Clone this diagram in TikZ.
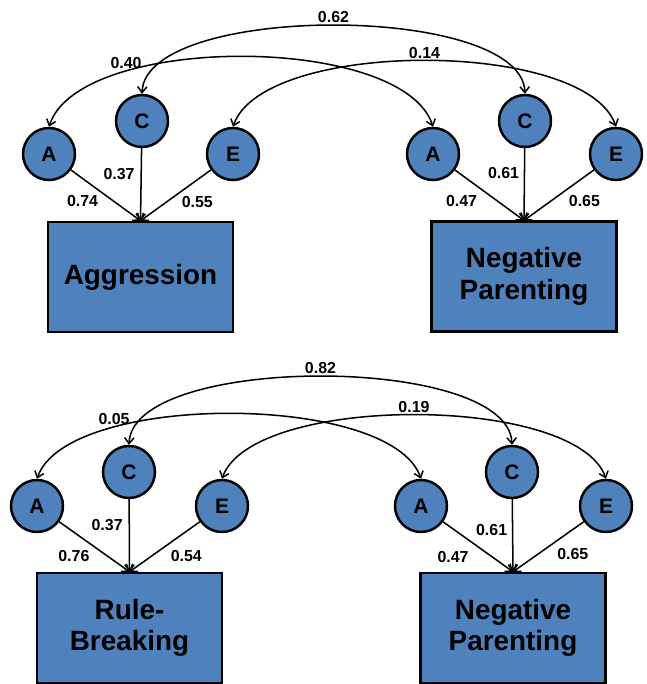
\documentclass[tikz,border=0pt]{standalone}
\usepackage{fontspec}
\setmainfont{Liberation Sans}
\usepackage{tikz}
\usetikzlibrary{arrows.meta}
\definecolor{aceB}{RGB}{79,129,189}
\tikzset{
  latent/.style={circle, draw, line width=2.1pt, fill=aceB, minimum size=1.56cm, inner sep=0pt,
    font=\fontsize{17.9}{20}\selectfont\bfseries},
  pheno/.style={rectangle, draw, line width=2.1pt, fill=aceB, minimum width=5.55cm, minimum height=3.3cm,
    align=center, font=\fontsize{23.8}{27}\selectfont\bfseries},
  barb/.tip={Straight Barb[length=5pt, width=8pt]},
  load/.style={-barb, line width=1.3pt},
  cov/.style={barb-barb, line width=1.3pt},
  coef/.style={font=\fontsize{13.6}{15}\selectfont\bfseries, inner sep=1pt}
}

\begin{document}
\begin{tikzpicture}
\useasboundingbox (0,0) rectangle (19.41,20.52);
% top: aggression and negative parenting
\node[latent] (aA) at (1.47,15.90) {A};
\node[latent] (aC) at (4.26,16.89) {C};
\node[latent] (aE) at (6.99,15.90) {E};
\node[pheno] (agg) at (4.215,12.21) {Aggression};
\node[latent] (pA) at (12.99,15.90) {A};
\node[latent] (pC) at (15.75,16.89) {C};
\node[latent] (pE) at (18.48,15.90) {E};
\node[pheno] (np) at (15.72,12.22) {Negative\\Parenting};
\draw[load] (aA) -- node[coef, pos=0.62, left=12pt] {0.74} (agg.north);
\draw[load] (aC) -- node[coef, pos=0.35, left=4pt] {0.37} (agg.north);
\draw[load] (aE) -- node[coef, pos=0.64, right=12pt] {0.55} (agg.north);
\draw[load] (pA) -- node[coef, pos=0.62, left=16pt] {0.47} (np.north);
\draw[load] (pC) -- node[coef, pos=0.35, left=3pt] {0.61} (np.north);
\draw[load] (pE) -- node[coef, pos=0.62, right=14pt] {0.65} (np.north);
\draw[cov] (aC.north) .. controls +(0.1,2.73) and +(-0.1,2.73) .. node[coef, pos=0.5, above=1pt] {0.62} (pC.north);
\draw[cov] (aA.north) .. controls +(0.9,2.8) and +(-0.9,2.8) .. node[coef, pos=0.27, above=1pt] {0.40} (pA.north);
\draw[cov] (aE.north) .. controls +(0.9,2.64) and +(-0.9,2.64) .. node[coef, pos=0.5, above=0pt] {0.14} (pE.north);
% bottom: rule-breaking and negative parenting
\node[latent] (rA) at (1.11,5.34) {A};
\node[latent] (rC) at (3.87,6.36) {C};
\node[latent] (rE) at (6.66,5.34) {E};
\node[pheno] (rb) at (3.885,1.68) {Rule-\\Breaking};
\node[latent] (qA) at (12.63,5.34) {A};
\node[latent] (qC) at (15.36,6.36) {C};
\node[latent] (qE) at (18.18,5.34) {E};
\node[pheno] (nq) at (15.39,1.68) {Negative\\Parenting};
\draw[load] (rA) -- node[coef, pos=0.69, left=14pt] {0.76} (rb.north);
\draw[load] (rC) -- node[coef, pos=0.36, left=4pt] {0.37} (rb.north);
\draw[load] (rE) -- node[coef, pos=0.69, right=15pt] {0.54} (rb.north);
\draw[load] (qA) -- node[coef, pos=0.71, left=19pt] {0.47} (nq.north);
\draw[load] (qC) -- node[coef, pos=0.43, left=3pt] {0.61} (nq.north);
\draw[load] (qE) -- node[coef, pos=0.65, right=15pt] {0.65} (nq.north);
\draw[cov] (rC.north) .. controls +(0.1,2.73) and +(-0.1,2.73) .. node[coef, pos=0.5, above=1pt] {0.82} (qC.north);
\draw[cov] (rA.north) .. controls +(0.9,2.6) and +(-0.9,2.6) .. node[coef, pos=0.27, above=1pt] {0.05} (qA.north);
\draw[cov] (rE.north) .. controls +(0.9,2.55) and +(-0.9,2.55) .. node[coef, pos=0.5, above=0pt] {0.19} (qE.north);
\end{tikzpicture}
\end{document}
